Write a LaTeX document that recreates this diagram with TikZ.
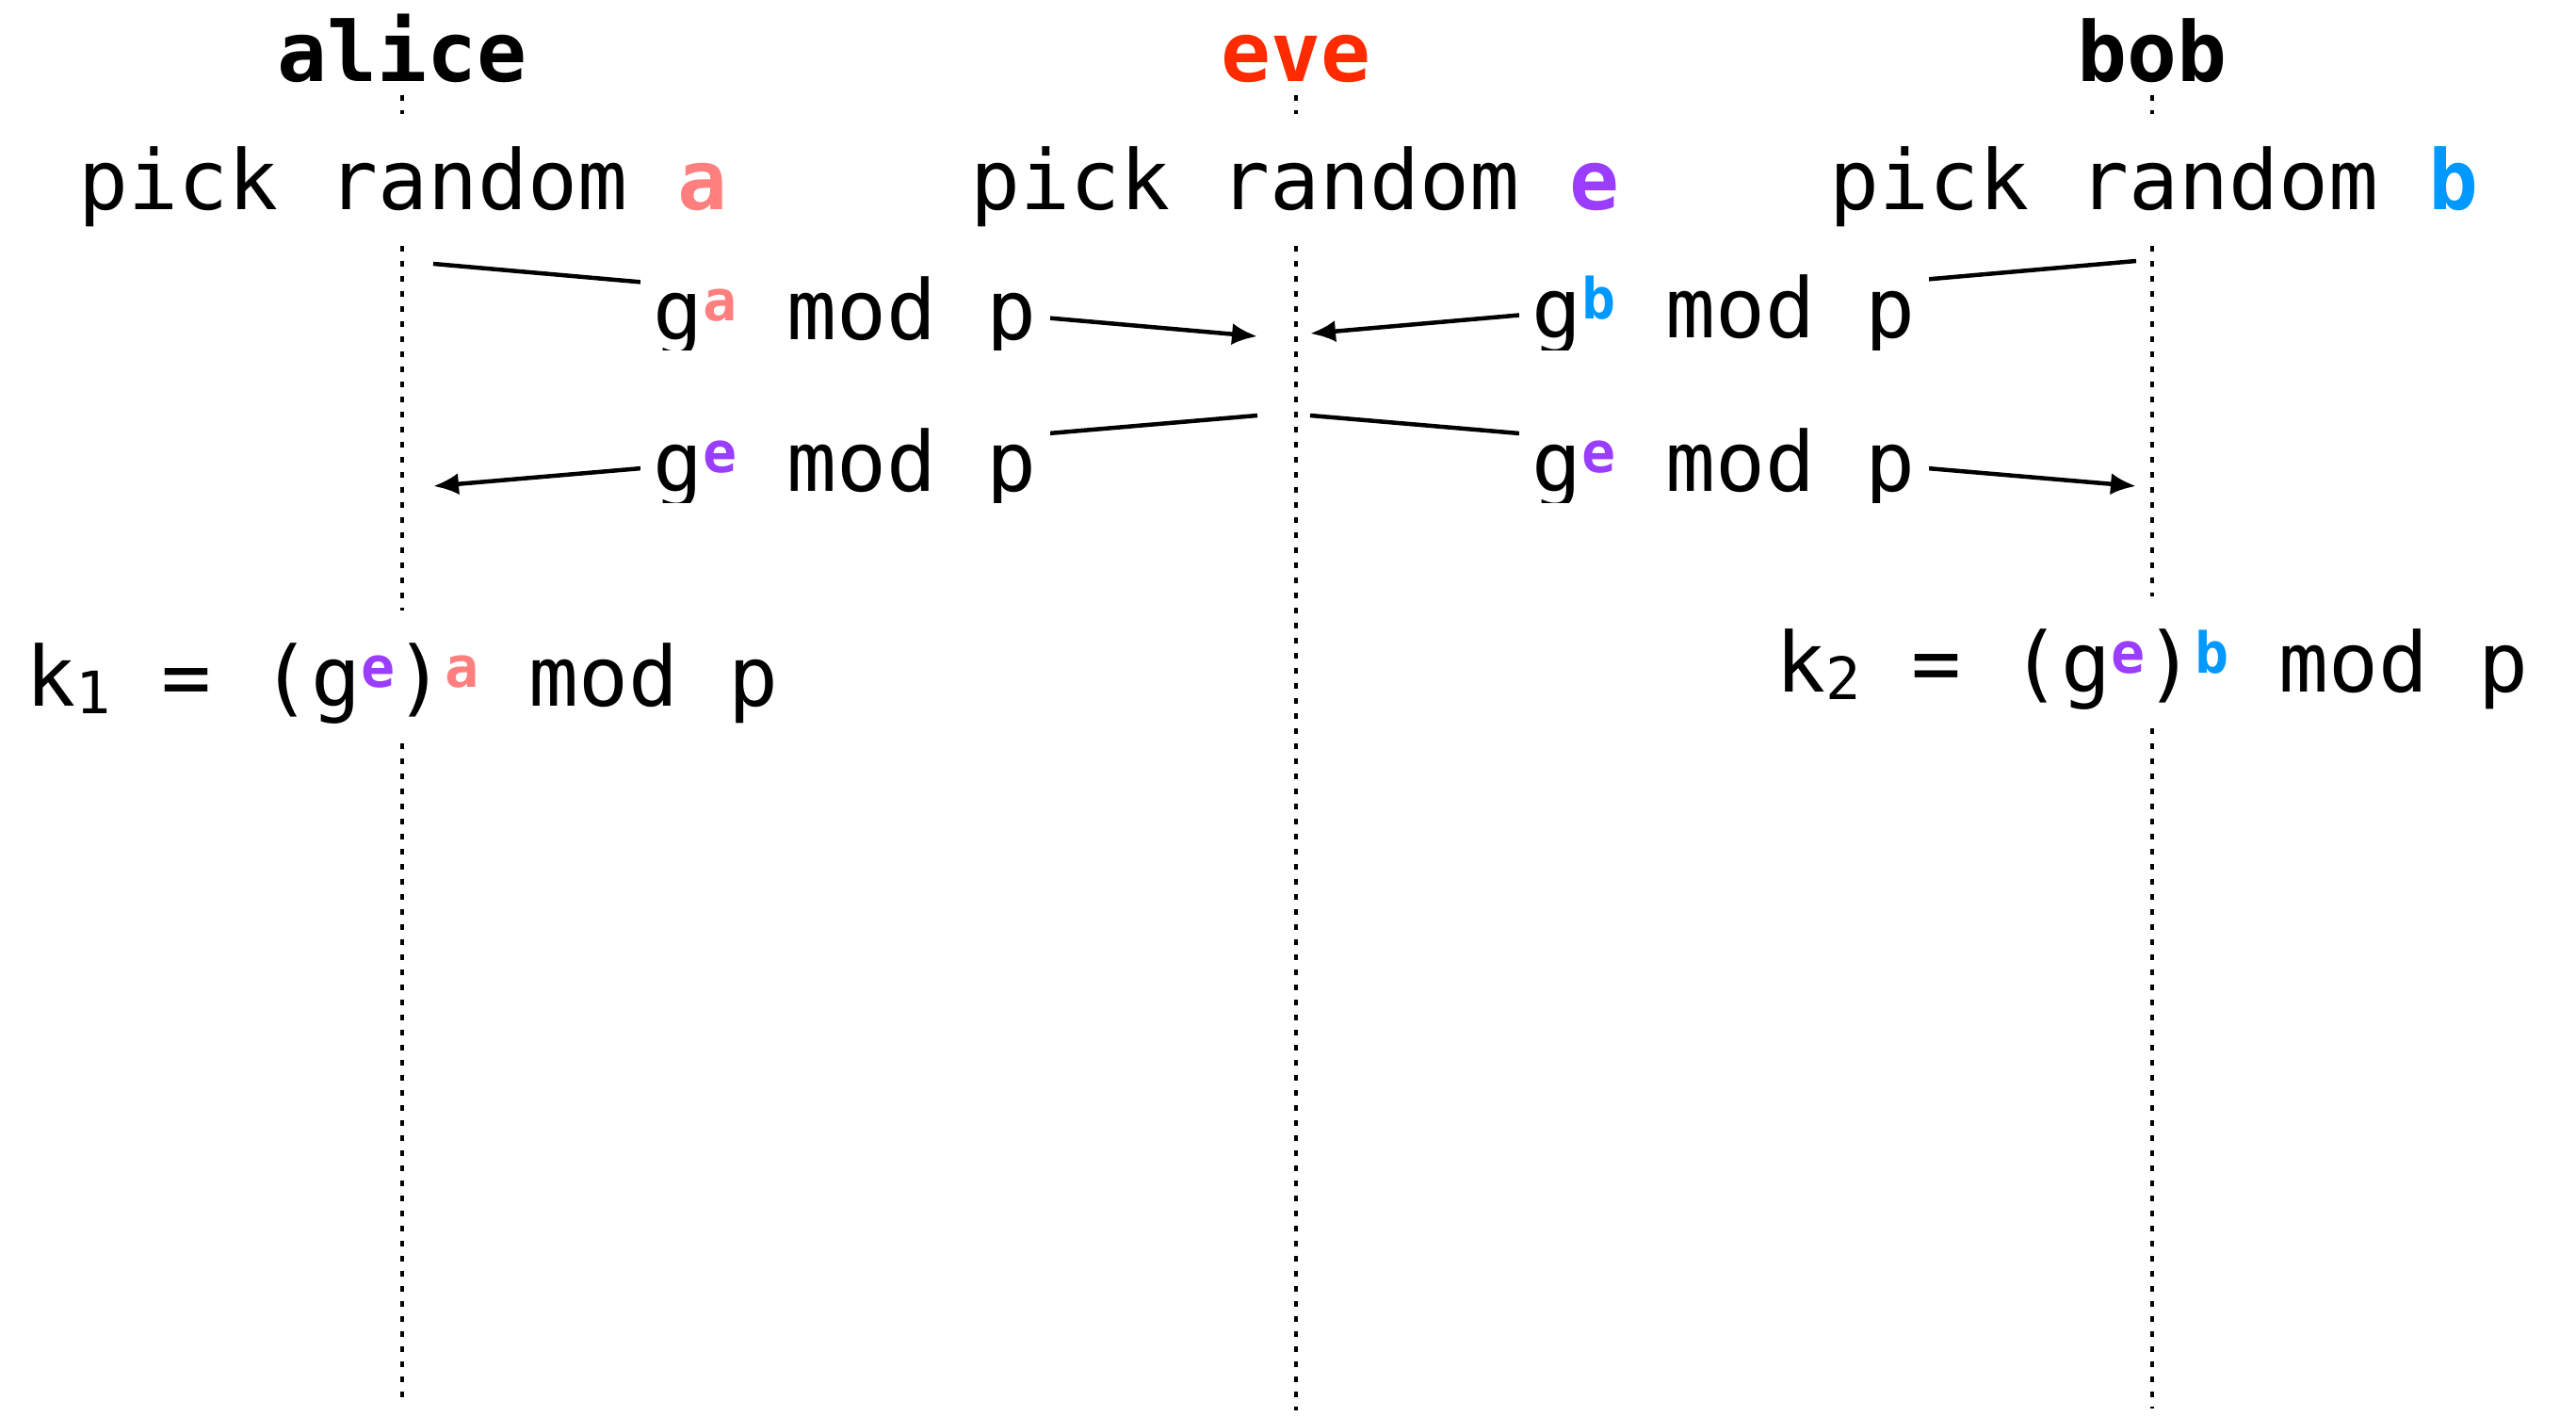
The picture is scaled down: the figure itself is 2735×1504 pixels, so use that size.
\documentclass[tikz,border=0pt]{standalone}
\usepackage{fontspec}
\usetikzlibrary{arrows.meta,backgrounds}
\newfontfamily\dmono{DejaVu Sans Mono}
\definecolor{pinkA}{HTML}{FF7F7F}
\definecolor{purpleE}{HTML}{9A3DFF}
\definecolor{blueB}{HTML}{0099FF}
\definecolor{redEve}{HTML}{FF2A00}
\newcommand\supc[2]{\raisebox{4pt}{\fontsize{12pt}{14pt}\selectfont\bfseries\color{#1}#2}}
\newcommand\subn[1]{\raisebox{-1.6pt}{\fontsize{12.4pt}{14pt}\selectfont #1}}
\begin{document}
\begin{tikzpicture}[x=0.2pt,y=-0.2pt,
  txt/.style={font={\dmono\fontsize{17.6pt}{20pt}\selectfont}, anchor=base, fill=white,
    inner xsep=2.8pt, inner ysep=3.6pt, text height=16.8pt, text depth=3.6pt},
  head/.style={font={\dmono\bfseries\fontsize{17.6pt}{20pt}\selectfont}, anchor=base,
    inner xsep=2pt, inner ysep=2.6pt, text depth=0pt},
  life/.style={line width=0.95pt, dash pattern=on 1.2pt off 2pt},
  msg/.style={line width=0.9pt, -{Latex[length=5.4pt,width=4.6pt]}}]
\useasboundingbox (0,0) rectangle (2735,1504);
% headers
\node[head] (alice) at (427,87) {alice};
\node[head,text=redEve] (eve) at (1376,87) {eve};
\node[head] (bob) at (2285,87) {bob};
% picks
\node[txt] (pickA) at (428,223) {pick random \textbf{\color{pinkA}a}};
\node[txt] (pickE) at (1375,223) {pick random \textbf{\color{purpleE}e}};
\node[txt] (pickB) at (2287,223) {pick random \textbf{\color{blueB}b}};
% keys
\node[txt] (k1) at (427,750) {k\subn{1} = (g\supc{purpleE}{e})\supc{pinkA}{a} mod p};
\node[txt] (k2) at (2285,735) {k\subn{2} = (g\supc{purpleE}{e})\supc{blueB}{b} mod p};
% message labels (bottoms clipped as in the reference)
\begin{scope}
\clip (600,240) rectangle (2150,372);
\node[txt] (m1) at (897,361) {g\supc{pinkA}{a} mod p};
\node[txt] (m2) at (1830,359) {g\supc{blueB}{b} mod p};
\end{scope}
\begin{scope}
\clip (600,400) rectangle (2150,534);
\node[txt] (m3) at (897,522) {g\supc{purpleE}{e} mod p};
\node[txt] (m4) at (1830,522) {g\supc{purpleE}{e} mod p};
\end{scope}
% coordinates
\coordinate (aliceEnd) at (427,1484);
\coordinate (eveEnd) at (1376,1497);
\coordinate (bobEnd) at (2285,1495);
\coordinate (m1s) at (460,280);
\coordinate (m1e) at (1335,357);
\coordinate (m2s) at (2268,277);
\coordinate (m2e) at (1391,354);
\coordinate (m3s) at (1335,441);
\coordinate (m3e) at (460,516);
\coordinate (m4s) at (1391,441);
\coordinate (m4e) at (2268,516);
\begin{pgfonlayer}{background}
\draw[life] (alice.south) -- (aliceEnd);
\draw[life] (eve.south) -- (eveEnd);
\draw[life] (bob.south) -- (bobEnd);
\draw[msg] (m1s) -- (m1e);
\draw[msg] (m2s) -- (m2e);
\draw[msg] (m3s) -- (m3e);
\draw[msg] (m4s) -- (m4e);
\end{pgfonlayer}
\end{tikzpicture}
\end{document}
